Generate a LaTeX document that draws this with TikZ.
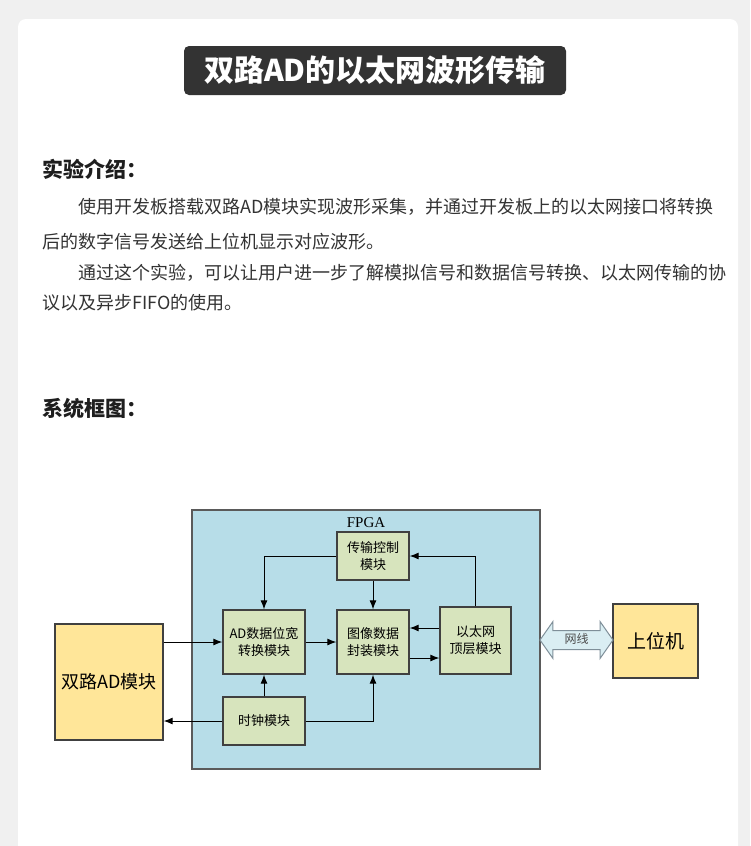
\documentclass[tikz,border=0pt]{standalone}
\usepackage{fontspec}
\setmainfont{Noto Sans CJK SC}
\newfontfamily\latinserif{Liberation Serif}
\usetikzlibrary{shapes.arrows, arrows.meta, positioning, calc}
\definecolor{pagebg}{HTML}{F0F0F0}
\definecolor{titlebg}{HTML}{333333}
\definecolor{headtxt}{HTML}{1E1E1E}
\definecolor{txt}{HTML}{333333}
\definecolor{fpgablue}{HTML}{B7DDE8}
\definecolor{fpgaedge}{HTML}{5A5A5A}
\definecolor{blkgreen}{HTML}{D7E4BD}
\definecolor{extyellow}{HTML}{FFE699}
\definecolor{wireblue}{HTML}{DAEEF3}
\definecolor{wireedge}{HTML}{7F8F99}
\definecolor{edge}{HTML}{404040}

\begin{document}
\begin{tikzpicture}[x=1pt, y=-1pt,
    blk/.style={draw=edge, fill=blkgreen, line width=1.3pt, align=center, inner sep=0pt,
        font=\fontsize{13}{17}\selectfont},
    ext/.style={draw=edge, fill=extyellow, line width=1.3pt, inner sep=0pt},
    arrow/.style={->, >={Latex[length=9pt, width=7pt]}, line width=1pt},
    para/.style={anchor=west, inner sep=0pt, text=txt, font=\fontsize{18}{22}\selectfont},
    head/.style={anchor=west, inner sep=0pt, text=headtxt, font=\fontsize{21}{25}\selectfont\bfseries}]
    \useasboundingbox (0,0) rectangle (750,846);
    \fill[pagebg] (0,0) rectangle (750,846);
    \fill[white, rounded corners=8pt] (18,19) rectangle (738,880);

    \node[fill=titlebg, rounded corners=5pt, minimum width=382pt, minimum height=49pt, text=white,
        font=\fontsize{30}{34}\selectfont\bfseries] (title) at (375,70.5) {双路AD的以太网波形传输};
    \node[head] (intro) at (42,169) {实验介绍：};
    \node[para] (l1) at (78,207) {使用开发板搭载双路AD模块实现波形采集，并通过开发板上的以太网接口将转换};
    \node[para] (l2) at (42,242) {后的数字信号发送给上位机显示对应波形。};
    \node[para] (l3) at (78,273) {通过这个实验，可以让用户进一步了解模拟信号和数据信号转换、以太网传输的协};
    \node[para] (l4) at (42,303) {议以及异步FIFO的使用。};
    \node[head] (sys) at (42,408) {系统框图：};

    \node[draw=fpgaedge, fill=fpgablue, line width=1.3pt, minimum width=348pt, minimum height=259pt] (fpga) at (366,639.5) {};
    \node[font=\latinserif\fontsize{15}{18}\selectfont] (fpgalbl) at (366,523) {FPGA};
    \node[blk, minimum width=72pt, minimum height=48pt] (ctrl) at (373,556) {传输控制\\模块};
    \node[blk, minimum width=82pt, minimum height=64pt] (conv) at (264,642) {AD数据位宽\\转换模块};
    \node[blk, minimum width=72pt, minimum height=64pt] (pack) at (373,642) {图像数据\\封装模块};
    \node[blk, minimum width=71pt, minimum height=67pt] (eth) at (475.5,640.5) {以太网\\顶层模块};
    \node[blk, minimum width=82pt, minimum height=48pt] (clk) at (264,721) {时钟模块};
    \node[ext, minimum width=108pt, minimum height=116pt, font=\fontsize{18}{22}\selectfont] (adm) at (109,682) {双路AD模块};
    \node[ext, minimum width=85pt, minimum height=74pt, font=\fontsize{19}{22}\selectfont] (host) at (655.5,641) {上位机};
    \node[double arrow, draw=wireedge, fill=wireblue, line width=1pt, double arrow head extend=9pt,
        double arrow tip angle=110, minimum height=73pt, inner xsep=0pt, inner ysep=3pt,
        text height=9pt, text depth=3pt, text=black!70, font=\fontsize{12}{14}\selectfont] (wire) at (576.5,640) {网线};

    \draw[arrow] (adm.east |- conv.west) -- (conv.west);
    \draw[arrow] (clk.west) -- (clk.west -| adm.east);
    \draw[arrow] (ctrl.west) -| (conv.north);
    \draw[arrow] (ctrl.south) -- (pack.north);
    \draw[arrow] (eth.north) |- (ctrl.east);
    \draw[arrow] (conv.east) -- (pack.west);
    \draw[arrow] ([yshift=12.5pt]eth.west) -- ([yshift=12.5pt]eth.west -| pack.east);
    \draw[arrow] ([yshift=-16pt]pack.east) -- ([yshift=-16pt]pack.east -| eth.west);
    \draw[arrow] (clk.north) -- (conv.south);
    \draw[arrow] (clk.east) -| (pack.south);
\end{tikzpicture}
\end{document}
